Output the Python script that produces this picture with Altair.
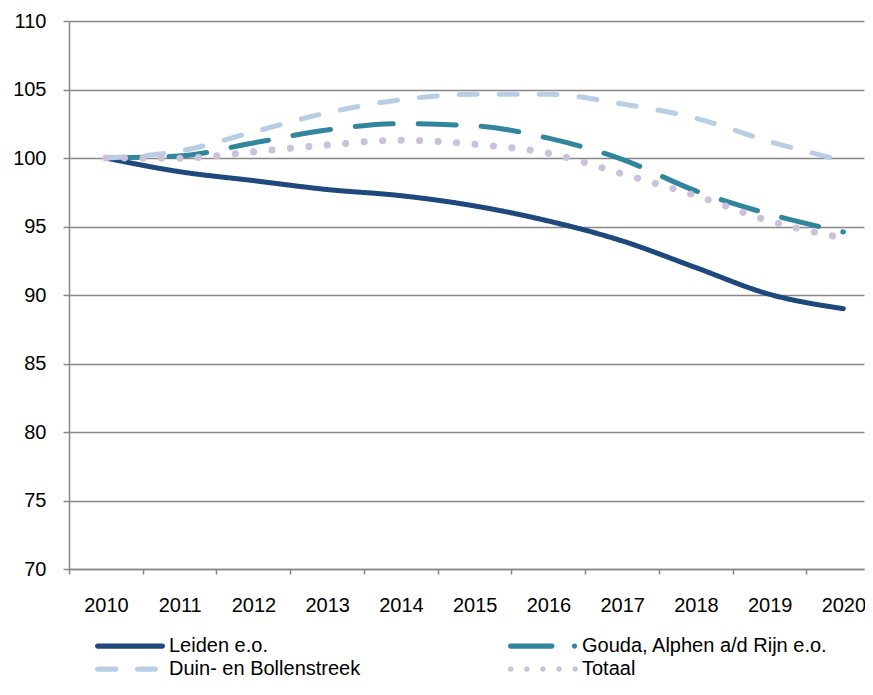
import altair as alt
import pandas as pd

years = [2010, 2011, 2012, 2013, 2014, 2015, 2016, 2017, 2018, 2019, 2020]
series_names = ["Leiden e.o.", "Gouda, Alphen a/d Rijn e.o.", "Duin- en Bollenstreek", "Totaal"]
leiden = [100.0, 99.0, 98.35, 97.7, 97.25, 96.5, 95.4, 93.95, 92.0, 90.05, 89.0]
gouda = [100.0, 100.15, 101.1, 102.05, 102.5, 102.35, 101.45, 99.9, 97.6, 95.9, 94.6]
duin = [100.0, 100.5, 101.9, 103.3, 104.25, 104.65, 104.65, 103.95, 102.9, 101.2, 99.8]
totaal = [100.0, 99.98, 100.45, 100.95, 101.3, 101.0, 100.35, 98.85, 97.25, 95.4, 94.15]
y_ticks = [70, 75, 80, 85, 90, 95, 100, 105, 110]

colors = ["#1F487C", "#31859C", "#B9CDE5", "#CCC1DA"]
dashes = [[1, 0], [38, 25], [18, 22], [0.1, 18.4]]


# legend symbol shapes (unit square -1..1), drawn as filled paths
def _bar(a, b, h=0.075):
    return (f"M{a + h:.3f},{-h} L{b - h:.3f},{-h} A{h},{h} 0 0 1 {b - h:.3f},{h} "
            f"L{a + h:.3f},{h} A{h},{h} 0 0 1 {a + h:.3f},{-h} Z")


def _dot(cx, r=0.08):
    return (f"M{cx - r:.3f},0 A{r},{r} 0 1 0 {cx + r:.3f},0 "
            f"A{r},{r} 0 1 0 {cx - r:.3f},0 Z")


legend_shapes = [
    _bar(-1, 1),
    _bar(-1, 0.33) + " " + _dot(0.9, 0.075),
    _bar(-1, -0.33) + " " + _bar(0.14, 0.8),
    " ".join(_dot(c) for c in [-0.92, -0.46, 0.0, 0.46, 0.92]),
]

rows = []
for name, vals in zip(series_names, [leiden, gouda, duin, totaal]):
    for yr, v in zip(years, vals):
        rows.append({"year": yr, "series": name, "value": v})
df = pd.DataFrame(rows)

x_bounds = [y - 0.5 for y in years]

x_enc = alt.X("year:Q",
              scale=alt.Scale(domain=[2009.5, 2020.28], nice=False, zero=False),
              axis=alt.Axis(values=x_bounds, labelExpr="format(datum.value + 0.5, 'd')",
                            labelOffset=36.9, labelFlush=False, labelOverlap=False,
                            tickSize=5, labelPadding=21, grid=False, title=None))
y_enc = alt.Y("value:Q",
              scale=alt.Scale(domain=[70, 110], nice=False, zero=False),
              axis=alt.Axis(values=y_ticks, tickSize=6, labelPadding=17, grid=True, title=None))

legend = alt.Legend(title=None, orient="none", legendX=26, legendY=615, direction="horizontal",
                    columns=2, columnPadding=147, rowPadding=3,
                    symbolSize=4900, clipHeight=20, symbolStrokeWidth=0,
                    labelOffset=4, labelFontSize=20, labelColor="#000000",
                    labelFont="Liberation Sans", labelLimit=400, padding=0)

lines = alt.Chart(df).mark_line(strokeCap="round", strokeJoin="round", interpolate="monotone").encode(
    x=x_enc,
    y=y_enc,
    color=alt.Color("series:N", scale=alt.Scale(domain=series_names, range=colors), legend=None),
    strokeDash=alt.StrokeDash("series:N", scale=alt.Scale(domain=series_names, range=dashes), legend=None),
    strokeWidth=alt.condition(alt.datum.series == "Totaal", alt.value(7), alt.value(5)),
)

legend_layer = alt.Chart(df).transform_filter("false").mark_point(
    filled=True, opacity=1, size=4900, strokeWidth=0
).encode(
    x=x_enc,
    y=y_enc,
    color=alt.Color("series:N", scale=alt.Scale(domain=series_names, range=colors), legend=legend),
    shape=alt.Shape("series:N", scale=alt.Scale(domain=series_names, range=legend_shapes), legend=legend),
)

chart = alt.layer(lines, legend_layer).resolve_legend(
    color="independent", shape="independent"
).properties(
    width=795, height=548,
    padding={"left": 4, "top": 3, "right": -1, "bottom": 0},
).configure_view(stroke=None).configure_axis(
    labelFont="Liberation Sans", labelFontSize=20, labelColor="#000000",
    domainColor="#888888", domainWidth=1.5, tickColor="#888888", tickWidth=1.5,
    gridColor="#888888", gridWidth=1.5,
)

chart.save("out.html", embed_options={"renderer": "svg", "actions": False})
